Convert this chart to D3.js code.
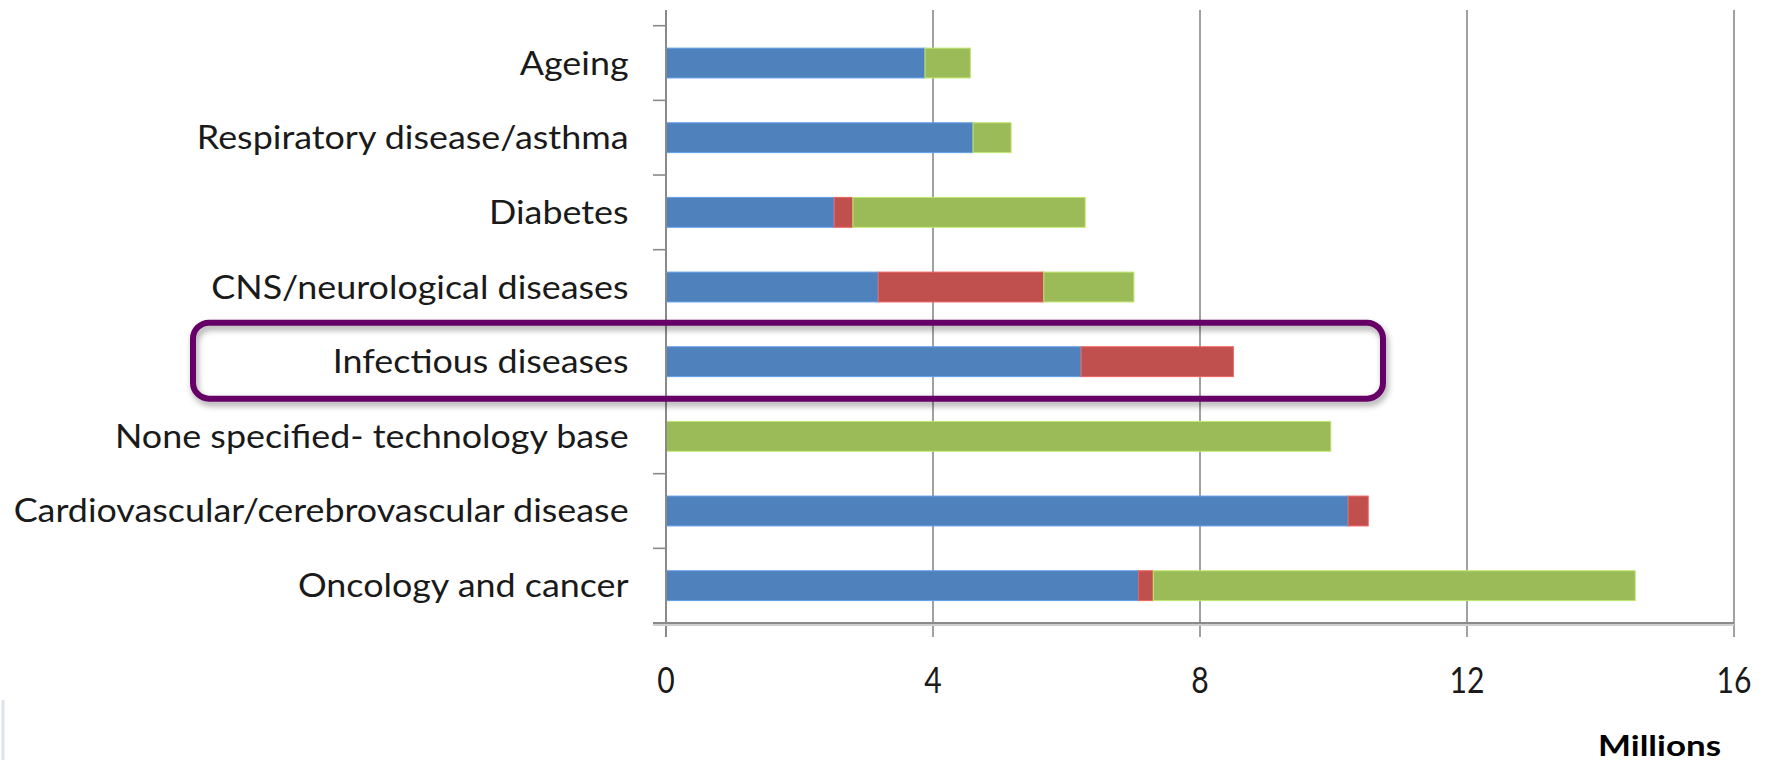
<!DOCTYPE html>
<html>
<head>
<meta charset="utf-8">
<script src="https://cdn.jsdelivr.net/npm/d3@7/dist/d3.min.js"></script>
<style>
  html, body { margin: 0; padding: 0; background: #ffffff; }
  svg { display: block; }
</style>
</head>
<body>
<svg id="chart" width="1773" height="765"></svg>
<script>
// ---- DATA (millions) ----
const categories = [
  "Ageing",
  "Respiratory disease/asthma",
  "Diabetes",
  "CNS/neurological diseases",
  "Infectious diseases",
  "None specified- technology base",
  "Cardiovascular/cerebrovascular disease",
  "Oncology and cancer"
];
const seriesBlue  = [3.88, 4.60, 2.52, 3.18, 6.22, 0.00, 10.22, 7.08];
const seriesRed   = [0.00, 0.00, 0.28, 2.48, 2.28, 0.00, 0.30, 0.22];
const seriesGreen = [0.68, 0.57, 3.48, 1.35, 0.00, 9.96, 0.00, 7.22];
const xTicks = [0, 4, 8, 12, 16];
const axisTitle = "Millions";
const highlighted = "Infectious diseases";

// ---- LAYOUT ----
const svg = d3.select("#chart");
const left = 666, right = 1734, plotTop = 10, bandTop = 25.7, bottom = 623;
const colors = { blue: "#4F81BD", red: "#C0504D", green: "#9BBB59" };
const gridColor = "#8a8a8a";

const x = d3.scaleLinear().domain([0, 16]).range([left, right]);
const y = d3.scaleBand().domain(categories).range([bandTop, bottom])
  .paddingInner(0.6).paddingOuter(0.3);

const defs = svg.append("defs");
const f = defs.append("filter").attr("id", "shadow")
  .attr("x", "-10%").attr("y", "-30%").attr("width", "120%").attr("height", "160%");
f.append("feDropShadow").attr("dx", 2).attr("dy", 4).attr("stdDeviation", 3)
  .attr("flood-color", "#000").attr("flood-opacity", 0.35);

// vertical gridlines (with downward tick marks)
svg.append("g").selectAll("line").data(xTicks.filter(d => d > 0)).join("line")
  .attr("x1", d => x(d)).attr("x2", d => x(d))
  .attr("y1", plotTop).attr("y2", bottom + 14)
  .attr("stroke", gridColor).attr("stroke-width", 1.6);

// bars (stacked)
const stackData = categories.map((c, i) => ({
  cat: c, blue: seriesBlue[i], red: seriesRed[i], green: seriesGreen[i]
}));
const stack = d3.stack().keys(["blue", "red", "green"])(stackData);
const gBars = svg.append("g");
stack.forEach(layer => {
  gBars.append("g").selectAll("rect").data(layer.filter(d => d[1] - d[0] > 0)).join("rect")
    .attr("x", d => x(d[0]))
    .attr("y", d => y(d.data.cat))
    .attr("width", d => x(d[1]) - x(d[0]))
    .attr("height", y.bandwidth())
    .attr("fill", colors[layer.key])
    .attr("stroke", d3.color(colors[layer.key]).brighter(0.6))
    .attr("stroke-width", 1);
});

// y axis line and category ticks
svg.append("line").attr("x1", left).attr("x2", left)
  .attr("y1", plotTop).attr("y2", bottom + 14)
  .attr("stroke", gridColor).attr("stroke-width", 2);
const step = y.step();
const bounds = d3.range(categories.length + 1).map(i => bandTop + i * step);
svg.append("g").selectAll("line").data(bounds).join("line")
  .attr("x1", left - 13).attr("x2", left)
  .attr("y1", d => d).attr("y2", d => d)
  .attr("stroke", gridColor).attr("stroke-width", 1.6);

// x axis line (with soft shadow)
svg.append("line").attr("x1", left - 13).attr("x2", right)
  .attr("y1", bottom + 2).attr("y2", bottom + 2)
  .attr("stroke", "#cfcfcf").attr("stroke-width", 2);
svg.append("line").attr("x1", left - 13).attr("x2", right)
  .attr("y1", bottom).attr("y2", bottom)
  .attr("stroke", gridColor).attr("stroke-width", 2);

// category labels
const labelRight = 628.6;
const catG = svg.append("g");
const catLabels = catG.selectAll("text").data(categories).join("text")
  .attr("text-anchor", "end")
  .attr("font-family", "Lato, 'Open Sans', sans-serif")
  .attr("font-size", 33)
  .attr("fill", "#1a1a1a")
  .attr("x", 0)
  .attr("y", d => y(d) + y.bandwidth() / 2 + 11.5)
  .text(d => d);
// squeeze horizontally to match the narrow reference face
let longest = 0;
catLabels.each(function () { const w = this.getComputedTextLength(); if (w > longest) longest = w; });
const sxCat = 615 / longest;
catG.attr("transform", `translate(${labelRight},0) scale(${sxCat},1)`);

// x tick labels
const tickG = svg.append("g");
tickG.selectAll("text").data(xTicks).join("text")
  .attr("text-anchor", "middle")
  .attr("font-family", "Lato, 'Open Sans', sans-serif")
  .attr("font-size", 37)
  .attr("fill", "#1a1a1a")
  .attr("x", d => x(d))
  .attr("y", 693)
  .text(d => d)
  .each(function (d) {
    const w = this.getComputedTextLength();
    const target = String(d).length * 17.5;
    const s = target / w;
    d3.select(this).attr("transform", `translate(${x(d)},0) scale(${s},1) translate(${-x(d)},0)`);
  });

// axis title
svg.append("text")
  .attr("text-anchor", "end")
  .attr("font-family", "Lato, 'Open Sans', sans-serif")
  .attr("font-weight", "bold")
  .attr("font-size", 29)
  .attr("fill", "#000")
  .attr("x", 0).attr("y", 756)
  .text(axisTitle)
  .each(function () {
    const w = this.getComputedTextLength();
    const s = 123 / w;
    d3.select(this).attr("transform", `translate(1721,0) scale(${s},1)`);
  });

// highlight box around the infectious diseases row
const hy = y(highlighted) + y.bandwidth() / 2;
svg.append("rect")
  .attr("x", 193).attr("y", hy - 39)
  .attr("width", 1190).attr("height", 76)
  .attr("rx", 16).attr("ry", 16)
  .attr("fill", "none")
  .attr("stroke", "#660066").attr("stroke-width", 6)
  .attr("filter", "url(#shadow)");

// faint edge artifact at far left
svg.append("line").attr("x1", 3).attr("x2", 3).attr("y1", 700).attr("y2", 760)
  .attr("stroke", "#dde3ea").attr("stroke-width", 3);
</script>
</body>
</html>
